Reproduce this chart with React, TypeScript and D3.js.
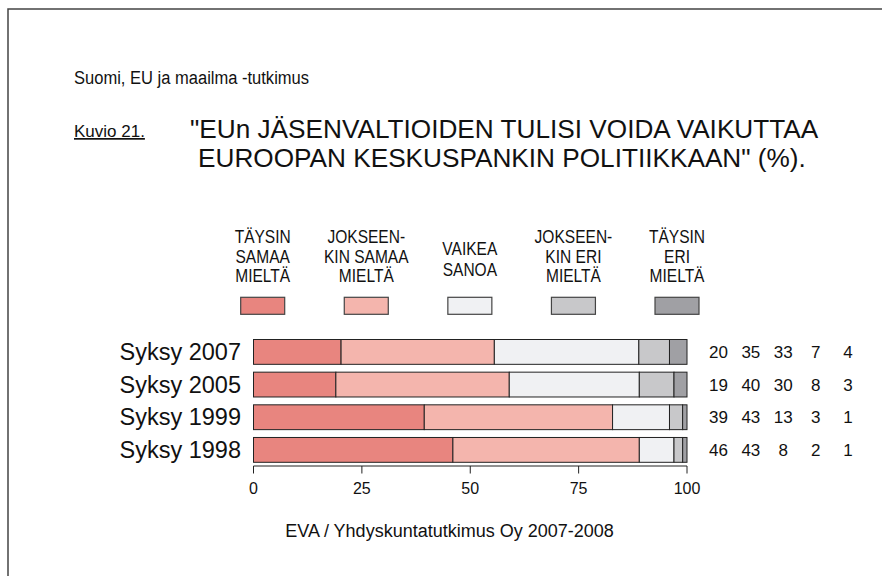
import React from "react";
import * as d3 from "d3";

const periods = ["Syksy 2007", "Syksy 2005", "Syksy 1999", "Syksy 1998"];
const seriesKeys = ["tsm", "ksm", "vs", "kem", "tem"];
const legendLabels = [
  ["TÄYSIN", "SAMAA", "MIELTÄ"],
  ["JOKSEEN-", "KIN SAMAA", "MIELTÄ"],
  ["VAIKEA", "SANOA"],
  ["JOKSEEN-", "KIN ERI", "MIELTÄ"],
  ["TÄYSIN", "ERI", "MIELTÄ"],
];
const colors = ["#E8857F", "#F4B5AD", "#F0F1F3", "#C8C8CA", "#A0A0A4"];
const tsm = [20, 19, 39, 46];
const ksm = [35, 40, 43, 43];
const vs = [33, 30, 13, 8];
const kem = [7, 8, 3, 2];
const tem = [4, 3, 1, 1];
const xTicks = [0, 25, 50, 75, 100];

const FONT = "'Liberation Sans', Arial, sans-serif";

export default function App() {
  const W = 882, H = 576;
  const x = d3.scaleLinear().domain([0, 100]).range([253.5, 687]);
  const y = d3.scaleBand().domain(periods).range([339.5, 462.3]).paddingInner(0.24).paddingOuter(0);
  const legendX = d3.scalePoint().domain(seriesKeys).range([262.7, 677]);
  const numX = d3.scalePoint().domain(seriesKeys).range([718.5, 848]);

  const rows = periods.map((p, i) => {
    const vals = [tsm[i], ksm[i], vs[i], kem[i], tem[i]];
    const total = d3.sum(vals);
    return { period: p, vals, total };
  });
  const stackData = rows.map((r) => {
    const o: any = { period: r.period };
    seriesKeys.forEach((k, j) => (o[k] = (r.vals[j] / r.total) * 100));
    return o;
  });
  const stacked = d3.stack().keys(seriesKeys)(stackData as any);

  return (
    <svg width={W} height={H} style={{ position: "absolute", left: 0, top: 0, background: "#fff" }} fontFamily={FONT}>
      <rect x={0} y={0} width={W} height={H} fill="#fff" />
      <path d={`M8,${H} L8,9 L${W},9`} fill="none" stroke="#444" strokeWidth={1.5} />

      <text transform="translate(74,84) scale(0.87,1)" fontSize={19} fill="#111">Suomi, EU ja maailma -tutkimus</text>
      <text x={74} y={137} fontSize={17} fill="#111" textDecoration="underline">Kuvio 21.</text>
      <text x={190} y={138} fontSize={26.2} fill="#111">"EUn JÄSENVALTIOIDEN TULISI VOIDA VAIKUTTAA</text>
      <text x={198} y={167} fontSize={26.2} fill="#111">EUROOPAN KESKUSPANKIN POLITIIKKAAN" (%).</text>

      {seriesKeys.map((k, i) => {
        const lines = legendLabels[i];
        const cx = legendX(k)!;
        const base = lines.length === 3 ? [243, 262.6, 282.2] : [255, 275.5];
        return (
          <g key={k}>
            {lines.map((t, j) => (
              <text key={j} transform={`translate(${cx},${base[j]}) scale(0.84,1)`} textAnchor="middle" fontSize={18.5} fill="#111">{t}</text>
            ))}
            <rect x={cx - 22} y={297.3} width={44} height={17} fill={colors[i]} stroke="#444" strokeWidth={1.2} />
          </g>
        );
      })}

      {stacked.map((s, i) => (
        <g key={s.key}>
          {s.map((d: any) => (
            <rect key={d.data.period} x={x(d[0])} y={y(d.data.period)} width={x(d[1]) - x(d[0])} height={y.bandwidth()} fill={colors[i]} stroke="#222" strokeWidth={1} />
          ))}
        </g>
      ))}

      {rows.map((r) => (
        <g key={r.period}>
          <text x={241} y={y(r.period)! + y.bandwidth() / 2 + 8} textAnchor="end" fontSize={23.5} fill="#111">{r.period}</text>
          {r.vals.map((v, j) => (
            <text key={j} x={numX(seriesKeys[j])} y={y(r.period)! + y.bandwidth() / 2 + 6} textAnchor="middle" fontSize={17} fill="#111">{v}</text>
          ))}
        </g>
      ))}

      <line x1={x(0)} x2={x(100)} y1={466} y2={466} stroke="#222" strokeWidth={1} />
      {xTicks.map((t) => (
        <g key={t}>
          <line x1={x(t)} x2={x(t)} y1={466} y2={473.5} stroke="#222" strokeWidth={1} />
          <text x={x(t)} y={494} textAnchor="middle" fontSize={16} fill="#111">{t}</text>
        </g>
      ))}

      <text x={449.5} y={537} textAnchor="middle" fontSize={18} fill="#111">EVA / Yhdyskuntatutkimus Oy 2007-2008</text>
    </svg>
  );
}
